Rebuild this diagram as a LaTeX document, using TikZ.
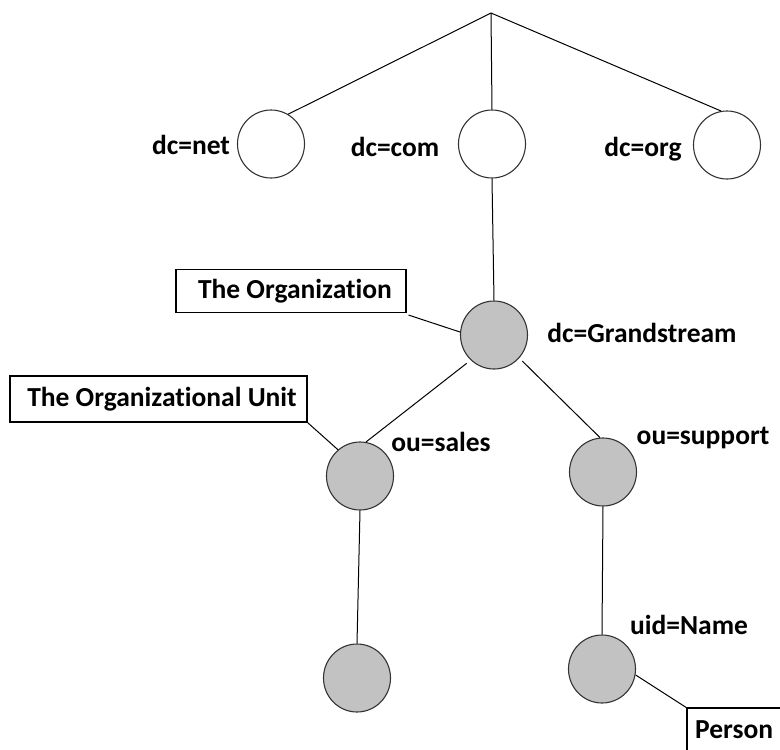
\documentclass[tikz,border=0pt]{standalone}
\usepackage{fontspec}
\setmainfont{Carlito}[Ligatures=NoCommon]
\usetikzlibrary{shapes.geometric,calc}
\begin{document}
\begin{tikzpicture}[x=1pt,y=-1pt,
  every node/.style={font=\fontsize{27.5}{32}\selectfont\bfseries},
  empty/.style={ellipse,draw=black!80,line width=1.1pt,minimum width=67pt,minimum height=68pt,inner sep=0pt},
  filled/.style={empty,fill=black!24},
  lbl/.style={inner sep=0pt,anchor=center},
  box/.style={draw=black,line width=1.1pt,inner sep=0pt},
  link/.style={black,line width=1pt}]
\useasboundingbox (0,0) rectangle (780,750);
\clip (0,0) rectangle (780,750);
\coordinate (root) at (491,13);
\node[empty] (net) at (271,144) {};
\node[empty] (com) at (492,144) {};
\node[empty] (org) at (727,145) {};
\node[lbl] at (191,145) {dc=net};
\node[lbl] at (395,147) {dc=com};
\node[lbl] at (643,149) {dc=org};
\draw[link] (root) -- (net.60);
\draw[link] (root) -- (com.north);
\draw[link] (root) -- (org.100);
\node[filled] (gs) at (494,335) {};
\node[lbl] at (642,333) {dc=Grandstream};
\draw[link] (com.south) -- (gs.north);
\node[box,minimum width=230pt,minimum height=43pt] (torg) at (291,291) {};
\node[lbl] at (295,291) {The Organization};
\draw[link] ($(torg.south east)+(2,2)$) -- (gs.175);
\node[filled] (sales) at (360,476) {};
\node[lbl] at (441,442) {ou=sales};
\node[filled] (support) at (603,472) {};
\node[lbl] at (703,438) {ou=support};
\draw[link] ($(gs.225)+(-3,4)$) -- (sales.80);
\draw[link] ($(gs.-40)+(2,4)$) -- (support.95);
\node[box,minimum width=297pt,minimum height=46pt] (tou) at (158.5,399) {};
\node[lbl] at (162,399) {The Organizational Unit};
\draw[link] (tou.south east) -- (sales.130);
\node[filled] (leaf) at (357,678) {};
\node[filled] (uid) at (602,669) {};
\node[lbl] at (689,625) {uid=Name};
\draw[link] (sales.south) -- (leaf.north);
\draw[link] (support.south) -- (uid.north);
\draw[box] (687,708) coordinate (pbox) rectangle (800,800);
\node[lbl,anchor=west] (pers) at (695,730) {Person};
\draw[link] (uid.-10) -- (pbox);
\end{tikzpicture}
\end{document}
